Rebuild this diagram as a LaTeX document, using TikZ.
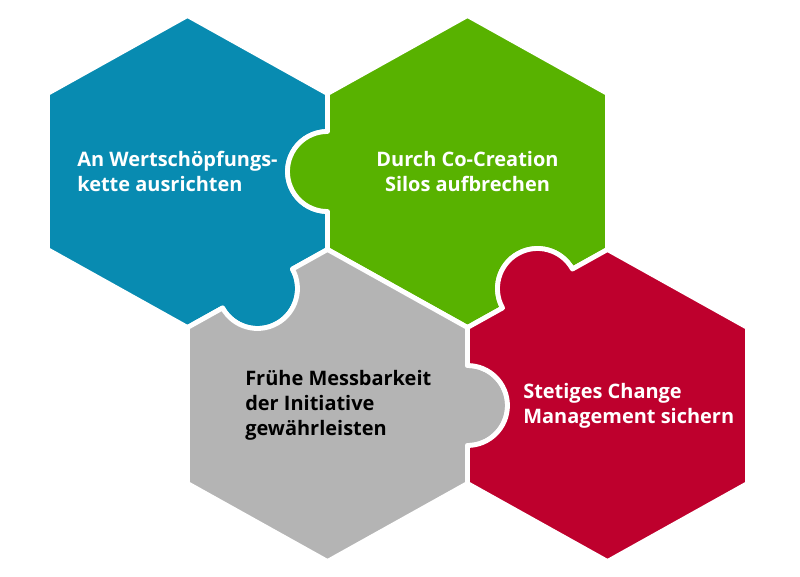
\documentclass[tikz,border=0pt]{standalone}
\usepackage{fontspec}
\setmainfont{Open Sans}
\usepackage{tikz}
\definecolor{hexblue}{RGB}{8,139,177}
\definecolor{hexgreen}{RGB}{88,178,0}
\definecolor{hexgray}{RGB}{180,180,180}
\definecolor{hexred}{RGB}{190,0,45}
\tikzset{piece/.style={draw=white,line width=1.2mm,line join=round}}
\begin{document}
\begin{tikzpicture}[x=0.25mm,y=-0.25mm]
\useasboundingbox (0,0) rectangle (800,577);
    % blue piece, notch on the right, tab into gray
    \path[piece,fill=hexblue] (187.5,15.5) -- (327.5,93.5) -- (327.5,131.5)
        arc[start angle=270,end angle=90,radius=40] -- (327.5,249.5)
        -- (292.44,269.03) arc[start angle=-29.12,end angle=150.88,radius=40]
        -- (187.5,327.5) -- (47.5,249.5) -- (47.5,93.5) -- cycle;
    % green piece, tab into blue, notch for red
    \path[piece,fill=hexgreen] (467.5,15.5) -- (607.5,93.5) -- (607.5,249.5)
        -- (572.44,269.03) arc[start angle=-29.12,end angle=-209.12,radius=40]
        -- (467.5,327.5) -- (327.5,249.5) -- (327.5,211.5)
        arc[start angle=90,end angle=270,radius=40] -- (327.5,93.5) -- cycle;
    % gray piece, tab into red, notch for blue
    \path[piece,fill=hexgray] (327.5,249.5) -- (467.5,327.5) -- (467.5,365.5)
        arc[start angle=-90,end angle=90,radius=40] -- (467.5,483.5)
        -- (327.5,561.5) -- (187.5,483.5) -- (187.5,327.5)
        -- (222.56,307.97) arc[start angle=150.88,end angle=-29.12,radius=40] -- cycle;
    % red piece, tab into green, notch for gray
    \path[piece,fill=hexred] (607.5,249.5) -- (747.5,327.5) -- (747.5,483.5)
        -- (607.5,561.5) -- (467.5,483.5) -- (467.5,445.5)
        arc[start angle=90,end angle=-90,radius=40] -- (467.5,327.5)
        -- (502.56,307.97) arc[start angle=150.88,end angle=330.88,radius=40] -- cycle;
\begin{scope}[every node/.style={inner sep=0pt,anchor=west,align=left,text=white,
              font=\fontsize{14.2pt}{17.6pt}\selectfont\bfseries}]
    \node (kette) at (77,171.5) {An Wertschöpfungs-\\kette ausrichten};
    \node[anchor=center,align=center] (silos) at (467.5,171.5) {Durch Co-Creation\\Silos aufbrechen};
    \node[text=black] (mess) at (245,405.5) {Frühe Messbarkeit\\der Initiative\\gewährleisten};
    \node (change) at (523,405.5) {Stetiges Change\\Management sichern};
\end{scope}
\end{tikzpicture}
\end{document}
